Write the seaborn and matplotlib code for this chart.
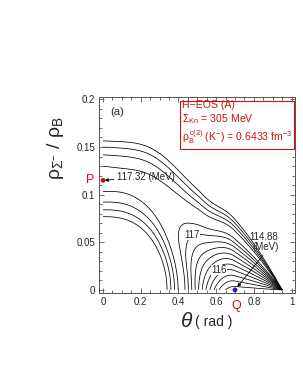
import matplotlib
matplotlib.use("Agg")
import matplotlib.pyplot as plt
import numpy as np
import pandas as pd
import seaborn as sns

# values
theta_c = 0.95             # all outer contours meet here
theta_Q, rho_P = 0.70, 0.115
E_P, E_Q = 117.32, 114.88   # MeV at P and Q
E_origin = 119.55           # theta=0, rho=0 (above the top level)
levels = [115.0, 115.2, 115.4, 115.6, 115.8, 116.0, 116.2, 116.4, 116.6, 116.8,
          117.0, 117.4, 117.6, 117.8, 118.0]
label_levels = [117, 116]
label_pos = [(0.472, 0.058), (0.615, 0.021)]

points = pd.DataFrame({"name": ["P", "Q"], "theta": [0.0, theta_Q], "rho": [rho_P, 0.0]})
point_colors = ["#cc1111", "#1a1acc"]

xticks = [0, 0.2, 0.4, 0.6, 0.8, 1]
xticklabels = ["0", "0.2", "0.4", "0.6", "0.8", "1"]
yticks = [0, 0.05, 0.1, 0.15, 0.2]
yticklabels = ["0", "0.05", "0.1", "0.15", "0.2"]

# energy surface on a (theta, u) grid, rho = u * (1-(theta/theta_c)^2)
th = np.linspace(0, theta_c, 600)
uu = np.linspace(0, 0.3, 600)
T, U = np.meshgrid(th, uu)
x = T / theta_Q
xi = np.clip(x, 0, 1)
bottom = np.where(x < 1, E_Q + (E_origin - E_Q) * (1 - xi**2.35)**2, E_Q + 0.5 * (x - 1)**2)
t0 = 0.5
s = np.where(T < t0, rho_P * (1 - (T / t0)**4), 0.0)
g_low = 169 * np.exp(-4.5 * T**2)
g_up = 12 + 388 * np.exp(-(T / 0.38)**2)
# linear rise past t0, matched to the valley slope so the lines stay smooth
g0 = 12 + 388 * np.exp(-(t0 / 0.38)**2)
lmax = 16
k = 2 * g0 * rho_P * 4 / t0 / lmax
slope = np.where(T > t0, lmax * np.tanh(k * (T - t0)), 0.0)
valley = bottom - g_low * s**2
inner = valley + g_low * s**2 * (1 - U**2 / np.maximum(s, 1e-9)**2)**2
outer = valley + g_up * (U - s)**2 + slope * U
E = np.where((s > 0) & (U < s), inner, outer)
RHO = U * (1 - (T / theta_c)**2)

sns.set_style("ticks")
plt.rcParams["font.family"] = ["Liberation Sans", "DejaVu Sans"]
plt.rcParams["mathtext.fontset"] = "custom"
plt.rcParams["mathtext.rm"] = "Liberation Sans"
plt.rcParams["mathtext.it"] = "Liberation Sans:italic"

fig = plt.figure(figsize=(3.03, 3.92), dpi=100)
ax = fig.add_axes([0.327, 0.252, 0.647, 0.501])

ax.contour(T, RHO, E, levels=levels, colors="black", linewidths=0.55)

for lv, (px, py) in zip(label_levels, label_pos):
    ax.text(px, py, str(lv), fontsize=7, ha="center", va="center",
            bbox=dict(facecolor="white", edgecolor="none", pad=0.1))

sns.scatterplot(data=points, x="theta", y="rho", hue="name", palette=point_colors,
                s=12, edgecolor="none", legend=False, ax=ax, zorder=5, clip_on=False)

ax.annotate("117.32 (MeV)", xy=(0.008, rho_P), xytext=(0.075, 0.119), fontsize=7,
            va="center", arrowprops=dict(arrowstyle="-|>", color="black", lw=0.6,
                                         mutation_scale=5, shrinkA=0, shrinkB=0))
ax.annotate("114.88\n(MeV)", xy=(0.712, 0.003), xytext=(0.93, 0.05), fontsize=7,
            ha="right", va="center", linespacing=1.0,
            arrowprops=dict(arrowstyle="-|>", color="black", lw=0.6, mutation_scale=5,
                            shrinkA=0, shrinkB=0, relpos=(0.55, 0.0)))

ax.text(-0.045, rho_P, "P", color="#cc1111", fontsize=9, ha="right", va="center")
ax.text(theta_Q + 0.005, -0.011, "Q", color="#cc1111", fontsize=9, ha="center", va="top")
ax.text(0.04, 0.187, "(a)", fontsize=8, va="center")

ax.text(0.985, 0.983, "H\u2212EOS (A)\n$\\mathregular{\u03a3_{Kn}}$ = 305 MeV\n"
        "$\\mathregular{\u03c1_B^{\\,c(2)}}$ (K$^{\\mathregular{-}}$) = 0.6433 fm$^{\\mathregular{-3}}$",
        transform=ax.transAxes, ha="right", va="top", multialignment="left",
        color="#cc1111", fontsize=7.6, linespacing=1.2,
        bbox=dict(facecolor="white", edgecolor="#cc1111", linewidth=0.8, pad=1.5))

ax.set_xlim(-0.021, 1.019)
ax.set_ylim(-0.0035, 0.2027)
ax.set_xticks(xticks, xticklabels)
ax.set_yticks(yticks, yticklabels)
ax.xaxis.set_minor_locator(matplotlib.ticker.MultipleLocator(0.05))
ax.yaxis.set_minor_locator(matplotlib.ticker.MultipleLocator(0.01))
ax.tick_params(which="both", direction="in", top=True, right=True, labelsize=7,
               width=0.6, color="#555555", pad=3)
ax.tick_params(which="major", length=3.5)
ax.tick_params(which="minor", length=2)
for sp in ax.spines.values():
    sp.set_linewidth(0.7)
    sp.set_color("#555555")

ax.set_xlabel("")
ax.set_ylabel("$\\mathregular{\u03c1_{\u03a3^{-}}\\ /\\ \u03c1_B}$", fontsize=14)
ax.yaxis.set_label_coords(-0.17, 0.74)
ax.text(0.445, -0.145, "$\\theta$", transform=ax.transAxes, fontsize=15, ha="center", va="center")
ax.text(0.585, -0.145, "( rad )", transform=ax.transAxes, fontsize=10, ha="center", va="center")

fig.savefig("out.png", dpi=100)
